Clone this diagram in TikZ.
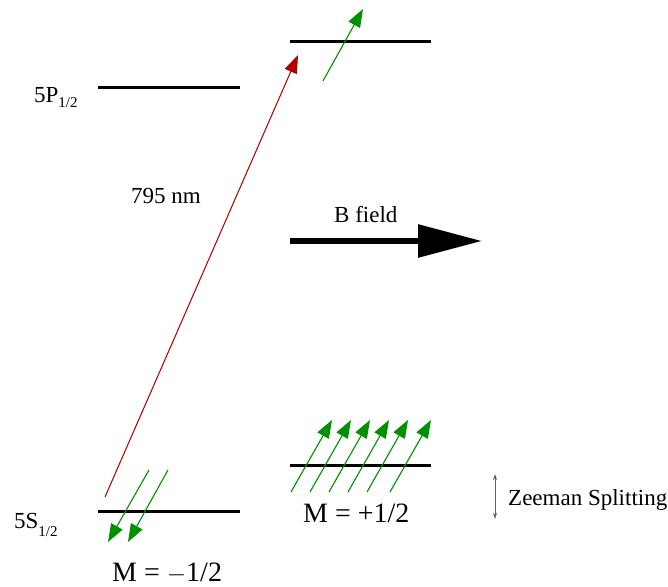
\documentclass[tikz,border=0pt]{standalone}
\usepackage{fontspec}
\setmainfont{Liberation Serif}
\usetikzlibrary{arrows.meta,calc,positioning}
\definecolor{Spin}{HTML}{009000}
\definecolor{Laser}{HTML}{B00000}
\definecolor{Tick}{HTML}{606060}

\begin{document}
\begin{tikzpicture}[x=1pt,y=-1pt,>=Stealth,
    level/.style={line width=3pt},
    spin/.style={draw=Spin,line width=1.1pt,-{Triangle[length=18pt,width=13pt]},fill=Spin},
    lbl/.style={inner sep=0pt,anchor=base west,font=\fontsize{23}{27}\selectfont},
    mlbl/.style={inner sep=0pt,anchor=base west,font=\fontsize{28}{32}\selectfont}]
    \useasboundingbox (0,0) rectangle (668,586);
    % energy levels
    \coordinate (pL) at (98,87);   \coordinate (pR) at (240,87);
    \coordinate (sL) at (98,511);  \coordinate (sR) at (240,511);
    \coordinate (uL) at (290,42);  \coordinate (uR) at (431,42);
    \coordinate (dL) at (290,465); \coordinate (dR) at (431,465);
    \draw[level] (pL)--(pR);
    \draw[level] (sL)--(sR);
    \draw[level] (uL)--(uR);
    \draw[level] (dL)--(dR);
    % labels
    \node[lbl] (pname) at (34,102) {5P\raisebox{-5pt}{\fontsize{15}{15}\selectfont 1/2}};
    \node[lbl] (sname) at (14,528) {5S\raisebox{-8pt}{\fontsize{15}{15}\selectfont 1/2}};
    \node[lbl] (wave) at (131,203) {795 nm};
    \node[lbl] (bname) at (334,222) {B field};
    \node[mlbl] (mplus) at (303,522) {M = +1/2};
    \node[mlbl] (mminus) at (112,581) {M = $-$1/2};
    \node[lbl] (zname) at (508,505) {Zeeman Splitting};
    % pump laser
    \coordinate (lasA) at (105,497);
    \coordinate (lasB) at (298,55);
    \draw[draw=Laser,line width=1pt,fill=Laser,-{Triangle[length=18pt,width=13pt]}] (lasA)--(lasB);
    % B field arrow
    \coordinate (bA) at (290,241);
    \coordinate (bB) at (482,241);
    \draw[line width=6pt,-{Triangle[length=64pt,width=32pt]}] (bA)--(bB);
    % spins
    \coordinate (eA) at (323,81); \coordinate (eB) at (363,9);
    \draw[spin] (eA)--(eB);
    \foreach \i in {0,...,4}{
      \coordinate (t\i) at (291+19*\i,492);
      \coordinate (h\i) at (332+19*\i,420);
      \draw[spin] (t\i)--(h\i);
    }
    \coordinate (t5) at (390,492); \coordinate (h5) at (431,420);
    \draw[spin] (t5)--(h5);
    \foreach \x in {0,1}{
      \coordinate (g\x) at (149+19*\x,470);
      \coordinate (k\x) at (108+20*\x,542);
      \draw[spin] (g\x)--(k\x);
    }
    % splitting marker
    \coordinate (zT) at (495,474);
    \coordinate (zB) at (495,519);
    \draw[Tick,line width=1pt,{Stealth[length=6pt,width=4pt]}-{Stealth[length=6pt,width=4pt]}] (zT)--(zB);
  \end{tikzpicture}
\end{document}
